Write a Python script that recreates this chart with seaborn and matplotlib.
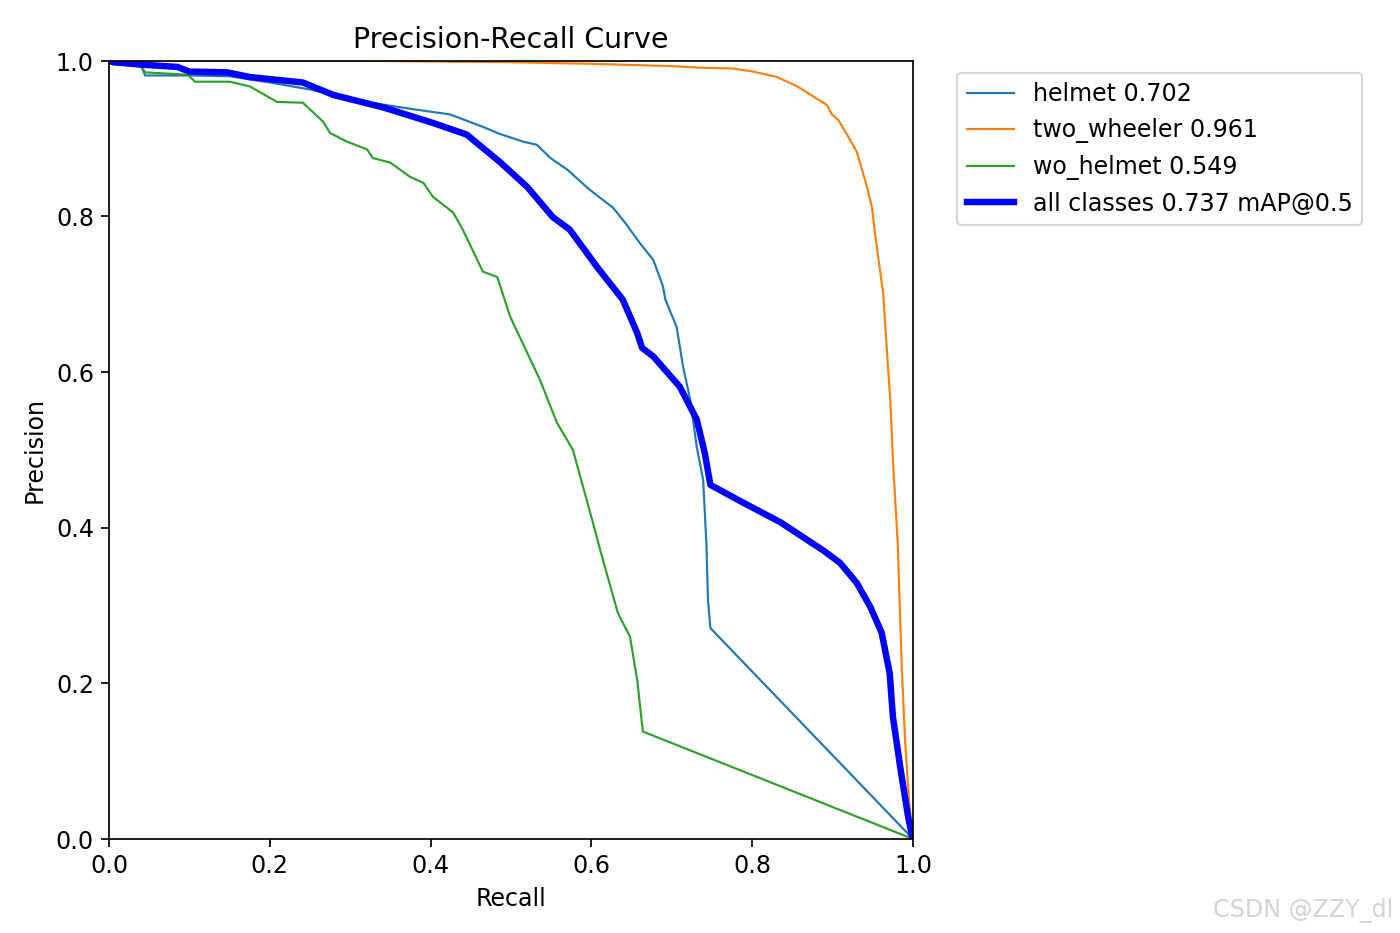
import matplotlib
matplotlib.use("Agg")
import matplotlib.pyplot as plt
import seaborn as sns
import pandas as pd

# values
helmet_recall = [0.0, 0.005, 0.04, 0.045, 0.10, 0.15, 0.20, 0.25, 0.30, 0.325, 0.383, 0.424,
                 0.465, 0.486, 0.515, 0.532, 0.549, 0.570, 0.598, 0.627, 0.644, 0.660, 0.677,
                 0.689, 0.692, 0.706, 0.714, 0.723, 0.731, 0.739, 0.743, 0.745, 0.748, 1.0]
helmet_precision = [1.0, 0.995, 0.993, 0.981, 0.981, 0.980, 0.972, 0.963, 0.952, 0.946, 0.937, 0.931,
                    0.915, 0.906, 0.896, 0.892, 0.875, 0.860, 0.834, 0.811, 0.789, 0.766, 0.744,
                    0.710, 0.693, 0.658, 0.607, 0.564, 0.504, 0.461, 0.380, 0.307, 0.271, 0.0]

wheeler_recall = [0.0, 0.3, 0.5, 0.6, 0.70, 0.735, 0.776, 0.801, 0.831, 0.856, 0.876, 0.893,
                  0.899, 0.907, 0.918, 0.930, 0.936, 0.943, 0.949, 0.953, 0.963, 0.968, 0.972,
                  0.975, 0.981, 0.986, 0.990, 0.995, 1.0]
wheeler_precision = [1.0, 1.0, 0.998, 0.996, 0.993, 0.991, 0.990, 0.986, 0.979, 0.967, 0.954, 0.943,
                     0.931, 0.924, 0.905, 0.883, 0.862, 0.837, 0.811, 0.776, 0.700, 0.620, 0.560,
                     0.487, 0.380, 0.221, 0.130, 0.050, 0.0]

wo_recall = [0.0, 0.04, 0.045, 0.098, 0.107, 0.150, 0.175, 0.209, 0.241, 0.266, 0.275, 0.296,
             0.321, 0.328, 0.350, 0.374, 0.391, 0.403, 0.428, 0.440, 0.465, 0.483, 0.499,
             0.520, 0.536, 0.557, 0.577, 0.602, 0.611, 0.633, 0.648, 0.657, 0.664, 1.0]
wo_precision = [1.0, 0.993, 0.985, 0.982, 0.973, 0.973, 0.967, 0.947, 0.946, 0.922, 0.907, 0.896,
                0.886, 0.875, 0.869, 0.851, 0.843, 0.825, 0.805, 0.783, 0.729, 0.722, 0.671,
                0.625, 0.590, 0.535, 0.500, 0.406, 0.371, 0.290, 0.260, 0.204, 0.138, 0.0]

all_recall = [0.0, 0.039, 0.085, 0.10, 0.147, 0.175, 0.241, 0.279, 0.341, 0.403, 0.445, 0.486,
              0.520, 0.552, 0.573, 0.607, 0.639, 0.657, 0.663, 0.677, 0.710, 0.731, 0.741,
              0.748, 0.789, 0.835, 0.888, 0.909, 0.930, 0.947, 0.961, 0.971, 0.975, 0.984,
              0.994, 0.999]
all_precision = [0.999, 0.995, 0.992, 0.986, 0.985, 0.979, 0.972, 0.956, 0.940, 0.920, 0.905, 0.870,
                 0.838, 0.799, 0.783, 0.735, 0.693, 0.650, 0.631, 0.620, 0.581, 0.539, 0.496,
                 0.455, 0.432, 0.407, 0.371, 0.355, 0.329, 0.298, 0.265, 0.213, 0.157, 0.093,
                 0.028, 0.003]

series = [
    ("helmet 0.702", helmet_recall, helmet_precision, "#1f77b4", 1),
    ("two_wheeler 0.961", wheeler_recall, wheeler_precision, "#ff7f0e", 1),
    ("wo_helmet 0.549", wo_recall, wo_precision, "#2ca02c", 1),
    ("all classes 0.737 mAP@0.5", all_recall, all_precision, "blue", 3),
]

plt.rcParams["font.size"] = 11

fig = plt.figure(figsize=(9, 6), dpi=1400 / 9)
ax = fig.add_axes([109 / 1400, 1 - 839 / 933, 804 / 1400, 778 / 933])

for label, r, p, color, lw in series:
    df = pd.DataFrame({"recall": r, "precision": p})
    sns.lineplot(data=df, x="recall", y="precision", ax=ax, color=color, linewidth=lw,
                 label=label, sort=False, estimator=None)

ax.set_xlim(0, 1)
ax.set_ylim(0, 1)
ax.set_xlabel("Recall")
ax.set_ylabel("Precision")
ax.set_title("Precision-Recall Curve", fontsize=13.2)
ax.legend(bbox_to_anchor=(1.04, 1), loc="upper left")

# watermark
fig.text(1213 / 1400, 1 - 910 / 933, "CSDN @ZZY_dl", fontsize=11, color="#d4d4d4",
         va="center", ha="left")

fig.savefig("out.png", dpi=1400 / 9)
